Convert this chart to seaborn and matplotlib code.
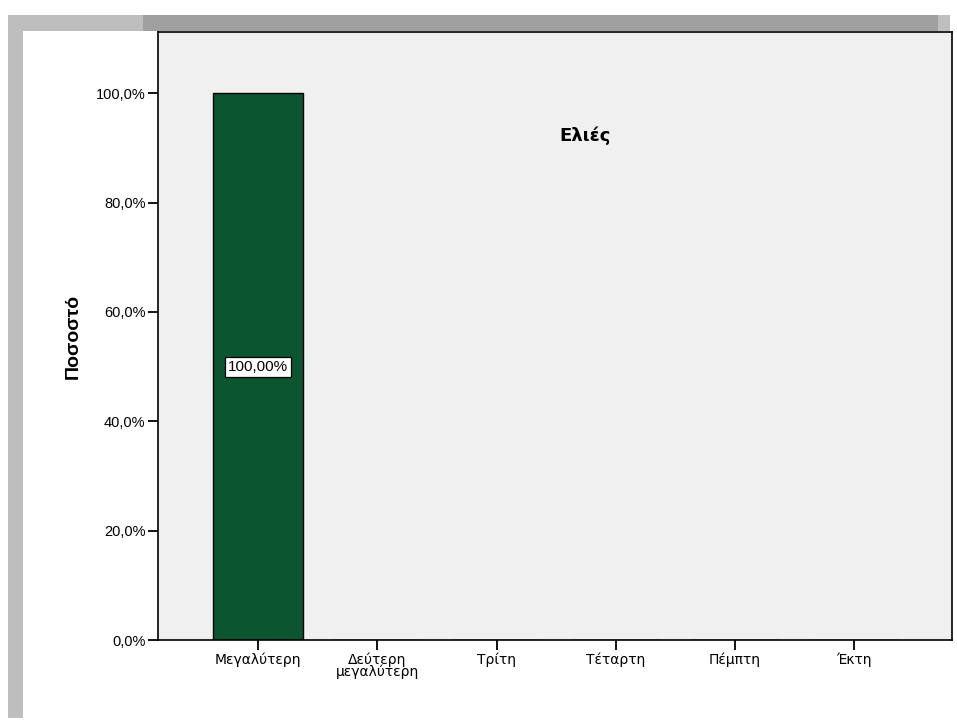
import pandas as pd
import matplotlib.pyplot as plt
import seaborn as sns
from matplotlib.patches import Rectangle
from matplotlib.ticker import FuncFormatter

# Δεδομένα του γραφήματος
categories = ["Μεγαλύτερη", "Δεύτερη\nμεγαλύτερη", "Τρίτη", "Τέταρτη", "Πέμπτη", "Έκτη"]
percent = [100.0, 0.0, 0.0, 0.0, 0.0, 0.0]
title = "Ελιές"
y_ticks = [0, 20, 40, 60, 80, 100]

sns.set_theme(style="white")
plt.rcParams['font.family'] = ['Liberation Sans', 'DejaVu Sans']
plt.rcParams['text.color'] = 'black'
plt.rcParams['axes.labelcolor'] = 'black'

W, H = 957, 726
fig = plt.figure(figsize=(W / 100, H / 100), dpi=100)
fig.patch.set_facecolor("white")

# Γκρι πλαίσια γύρω από το γράφημα
def px_rect(x0, y0, x1, y1, color):
    fig.patches.append(Rectangle((x0 / W, 1 - y1 / H), (x1 - x0) / W, (y1 - y0) / H,
                                 transform=fig.transFigure, facecolor=color,
                                 edgecolor="none", zorder=0))

px_rect(8, 15, 23, 718, "#bebebe")
px_rect(8, 15, 143, 31, "#bebebe")
px_rect(143, 15, 938, 31, "#a0a0a0")
px_rect(938, 15, 950, 31, "#bebebe")

ax = fig.add_axes([158 / W, 1 - 640 / H, 794 / W, 608 / H])
ax.set_facecolor("#f0f0f0")

df = pd.DataFrame({"category": categories, "percent": percent})
sns.barplot(data=df, x="category", y="percent", order=categories, color="#0b5630",
            saturation=1, width=0.755, edgecolor="black", linewidth=1.0, ax=ax)

ax.set_xlim(-0.84, 5.82)
ax.set_ylim(0, 111.2)
ax.set_yticks(y_ticks)
ax.yaxis.set_major_formatter(FuncFormatter(lambda v, p: f"{v:.1f}%".replace(".", ",")))

for s in ax.spines.values():
    s.set_visible(True)
    s.set_color("black")
    s.set_linewidth(1.2)

ax.tick_params(axis="both", direction="out", length=7, width=1.3, color="black",
               labelsize=10.5, labelcolor="black", left=True, bottom=True, pad=2)
for lbl in ax.get_xticklabels():
    lbl.set_family(['DejaVu Sans'])
    lbl.set_fontsize(10)
    lbl.set_linespacing(0.8)

ax.set_xlabel("")
ax.set_ylabel("Ποσοστό", fontsize=14, fontweight="bold", labelpad=10)

# Ετικέτα τιμής στη μέση της μπάρας
for i, v in enumerate(percent):
    if v > 0:
        ax.text(i, v / 2, f"{v:.2f}%".replace(".", ","), ha="center", va="center",
                fontsize=11, color="black",
                bbox=dict(boxstyle="square,pad=0.2", facecolor="white",
                          edgecolor="black", linewidth=0.9))

ax.text(0.538, 0.83, title, transform=ax.transAxes, ha="center", va="center",
        fontsize=13, fontweight="bold", family=['DejaVu Sans'], color="black")

fig.savefig("out.png", dpi=100)
